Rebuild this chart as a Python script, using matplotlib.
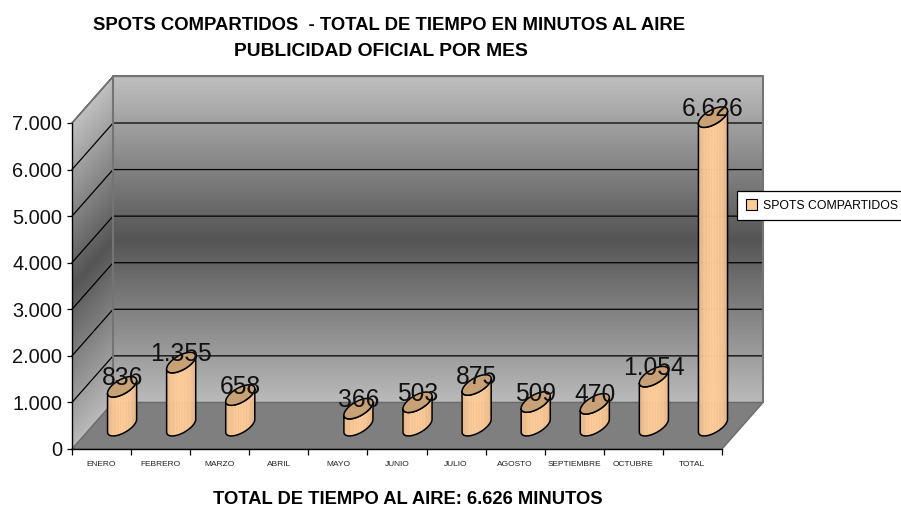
from matplotlib import pyplot as plt
from matplotlib.patches import Patch, Polygon
import numpy as np

plt.rcParams['font.family'] = ['Liberation Sans', 'DejaVu Sans']

months = ["ENERO", "FEBRERO", "MARZO", "ABRIL", "MAYO", "JUNIO", "JULIO",
          "AGOSTO", "SEPTIEMBRE", "OCTUBRE", "TOTAL"]
minutes = [836, 1355, 658, None, 366, 503, 875, 509, 470, 1054, 6626]
value_labels = ["836", "1.355", "658", "", "366", "503", "875", "509", "470",
                "1.054", "6.626"]
y_values = [0, 1000, 2000, 3000, 4000, 5000, 6000, 7000]
y_labels = ["0", "1.000", "2.000", "3.000", "4.000", "5.000", "6.000", "7.000"]
series_name = "SPOTS COMPARTIDOS"

W, H = 901, 509
# depth 1 moves a point this far in data units
DEPTH_X = 41 / 59
DEPTH_Y = 1000


def project(x, y, z):
    return x + z * DEPTH_X, y + z * DEPTH_Y


def wall_grey(t):
    # t = 0 bottom, t = 1 top of the wall
    return np.interp(t, [0, 0.5, 1], [0.73, 0.33, 0.75])


def draw_walls(ax):
    levels = np.linspace(0, 7000, 141)
    for lo, hi in zip(levels[:-1], levels[1:]):
        g = wall_grey((lo + hi) / 2 / 7000)
        c = (g, g, g)
        back = [project(0, lo, 1), project(11, lo, 1), project(11, hi, 1), project(0, hi, 1)]
        side = [project(0, lo, 0), project(0, lo, 1), project(0, hi, 1), project(0, hi, 0)]
        ax.add_patch(Polygon(back, fc=c, ec="none", antialiased=False, clip_on=False, zorder=1))
        ax.add_patch(Polygon(side, fc=c, ec="none", antialiased=False, clip_on=False, zorder=1))
    floor = [project(0, 0, 0), project(11, 0, 0), project(11, 0, 1), project(0, 0, 1)]
    ax.add_patch(Polygon(floor, fc="#7f7f7f", ec="#6a6a6a", lw=1, clip_on=False, zorder=2))
    for v in y_values[1:]:
        xs, ys = zip(project(0, v, 0), project(0, v, 1), project(11, v, 1))
        ax.plot(xs, ys, color="#000000", lw=0.9, clip_on=False, zorder=3,
                solid_joinstyle="miter")
    # outline of the back wall
    xs, ys = zip(project(0, 0, 1), project(0, 7000, 1), project(11, 7000, 1), project(11, 0, 1))
    ax.plot(xs, ys, color="#747474", lw=1.5, clip_on=False, zorder=3)
    xs, ys = zip(project(0, 7000, 0), project(0, 7000, 1))
    ax.plot(xs, ys, color="#747474", lw=1.2, clip_on=False, zorder=3)


def draw_cylinder(ax, center, value):
    rx, rz = 0.193, 0.22
    start = np.arctan2(DEPTH_X * rz, rx) + np.pi
    angles = np.linspace(start, start + np.pi, 29)
    xb, yb = project(center + rx * np.cos(angles), 0, 0.5 + rz * np.sin(angles))
    xt, yt = project(center + rx * np.cos(angles), value, 0.5 + rz * np.sin(angles))
    light = np.array([1.0, 0.8, 0.6])
    dark = np.array([0.86, 0.68, 0.5])
    for i in range(len(angles) - 1):
        s = abs((i + 0.5) / (len(angles) - 1) * 2 - 1) ** 2
        c = light * (1 - s) + dark * s
        pts = [(xb[i], yb[i]), (xb[i + 1], yb[i + 1]), (xt[i + 1], yt[i + 1]), (xt[i], yt[i])]
        ax.add_patch(Polygon(pts, fc=c, ec=c, lw=0.3, clip_on=False, zorder=4))
    outline = list(zip(xb, yb)) + list(zip(xt[::-1], yt[::-1]))
    ax.add_patch(Polygon(outline, fc="none", ec="black", lw=1.1, clip_on=False, zorder=5))
    full = np.linspace(0, 2 * np.pi, 61)
    top = project(center + rx * np.cos(full), value, 0.5 + rz * np.sin(full))
    ax.add_patch(Polygon(np.column_stack(top), fc="#c9a176", ec="black", lw=1.1,
                         clip_on=False, zorder=6))


fig = plt.figure(figsize=(W / 100, H / 100), dpi=100)
ax = fig.add_axes([72 / W, 1 - 449 / H, 650 / W, 326 / H])
ax.set_xlim(0, len(months))
ax.set_ylim(0, 7000)

draw_walls(ax)

for i, value in enumerate(minutes):
    if value is None:
        continue
    draw_cylinder(ax, i + 0.5, value)
    lx, ly = project(i + 0.5, value, 0.5)
    ax.annotate(value_labels[i], (lx, ly), xytext=(0, 6), textcoords="offset points",
                ha="center", va="center", fontsize=17.7, color="#111111",
                annotation_clip=False, zorder=7)

for side in ["top", "right"]:
    ax.spines[side].set_visible(False)
for side in ["left", "bottom"]:
    ax.spines[side].set_zorder(8)
    ax.spines[side].set_linewidth(1)

ax.set_yticks(y_values)
ax.set_yticklabels(y_labels, fontsize=14.4, color="#111111")
ax.tick_params(axis="y", length=3.5, width=0.9, pad=3.6)
ax.set_xticks(np.arange(len(months) + 1))
ax.set_xticklabels([])
ax.tick_params(axis="x", which="major", length=4.5, width=0.9)
ax.set_xticks(np.arange(len(months)) + 0.5, minor=True)
ax.set_xticklabels(months, minor=True, fontsize=6, color="#222222")
ax.tick_params(axis="x", which="minor", length=0, pad=9)

fig.text(389.5 / W, 1 - 25.5 / H, "SPOTS COMPARTIDOS  - TOTAL DE TIEMPO EN MINUTOS AL AIRE",
         ha="center", va="center", fontsize=13.3, fontweight="bold")
fig.text(380.5 / W, 1 - 51 / H, "PUBLICIDAD OFICIAL POR MES",
         ha="center", va="center", fontsize=13.9, fontweight="bold")
fig.text(408 / W, 1 - 499 / H, "TOTAL DE TIEMPO AL AIRE: 6.626 MINUTOS",
         ha="center", va="center", fontsize=13.2, fontweight="bold")

handle = Patch(fc="#ffcc99", ec="black", lw=0.8)
leg = fig.legend([handle], [series_name], loc="center left",
                 bbox_to_anchor=(737 / W, 1 - 205.5 / H), fontsize=8.85,
                 fancybox=False, framealpha=1, edgecolor="black",
                 handlelength=0.9, handleheight=0.9, handletextpad=0.5,
                 borderpad=0.7, borderaxespad=0)
leg.get_frame().set_linewidth(0.9)

fig.savefig("out.png", dpi=100)
